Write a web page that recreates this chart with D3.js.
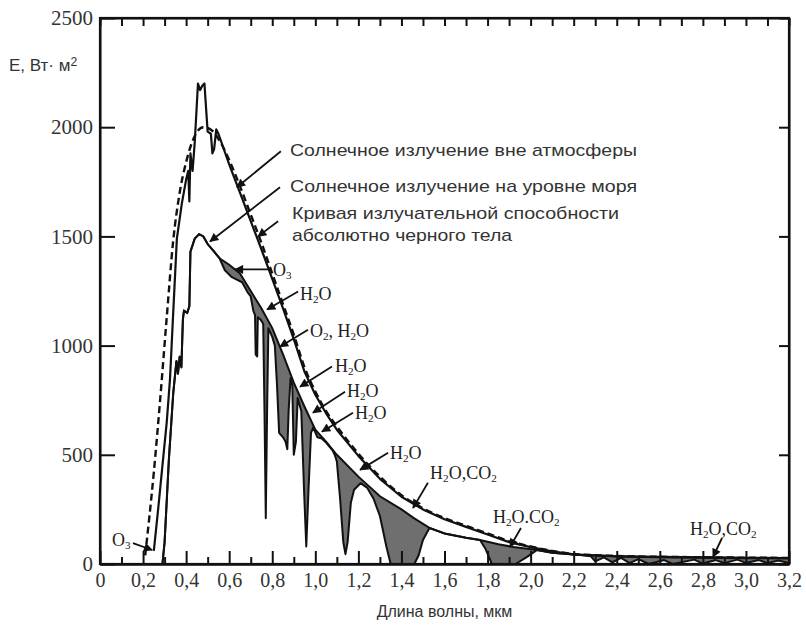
<!DOCTYPE html>
<html><head><meta charset="utf-8">
<script src="https://cdn.jsdelivr.net/npm/d3@7"></script>
<style>body{margin:0;background:#fff}svg{display:block}</style>
</head><body><svg id="c" width="806" height="628"></svg>
<script>
// ---- data: [wavelength µm, E W·m^-2·µm^-1] ----
const blackbody = [[0.21,40],[0.25,420],[0.28,760],[0.31,1130],[0.34,1480],[0.37,1700],[0.40,1840],[0.44,1960],[0.48,2000],[0.52,1985],[0.56,1930],[0.60,1850],[0.65,1730],[0.70,1600],[0.75,1470],[0.80,1330],[0.85,1190],[0.90,1050],[0.95,900],[1.00,790],[1.05,700],[1.10,630],[1.20,505],[1.30,400],[1.40,315],[1.50,255],[1.60,210],[1.70,175],[1.80,140],[1.90,105],[2.00,80],[2.10,60],[2.20,46],[2.40,37],[2.60,33],[2.80,31],[3.00,29],[3.20,28]];
const extraterrestrial = [[0.25,60],[0.27,250],[0.29,450],[0.31,650],[0.325,845],[0.34,1150],[0.357,1490],[0.38,1650],[0.40,1760],[0.41,1800],[0.415,1660],[0.42,1880],[0.43,1800],[0.44,1930],[0.455,2200],[0.465,2170],[0.475,2190],[0.485,2200],[0.50,1980],[0.515,1970],[0.522,1880],[0.53,1900],[0.54,1990],[0.55,1970],[0.60,1830],[0.65,1700],[0.70,1570],[0.75,1440],[0.80,1305],[0.85,1170],[0.90,1030],[0.95,880],[1.00,775],[1.05,690],[1.10,615],[1.20,495],[1.30,390],[1.40,308],[1.50,250],[1.60,205],[1.70,170],[1.80,135],[1.90,100],[2.00,77],[2.10,58],[2.20,44],[2.40,35],[2.60,31],[2.80,29],[3.00,27],[3.20,26]];
const seaLevelEnvelope = [[0.29,0],[0.30,100],[0.32,480],[0.34,780],[0.355,930],[0.362,870],[0.37,950],[0.378,900],[0.385,1120],[0.39,1160],[0.405,1150],[0.415,1180],[0.42,1430],[0.44,1490],[0.46,1510],[0.48,1500],[0.50,1465],[0.53,1430],[0.555,1400],[0.60,1370],[0.65,1330],[0.70,1250],[0.75,1170],[0.80,1080],[0.85,960],[0.90,830],[0.95,720],[1.00,615],[1.05,560],[1.10,500],[1.20,400],[1.30,310],[1.40,250],[1.456,211],[1.53,165],[1.60,140],[1.70,120],[1.765,110],[1.85,90],[1.92,78],[2.03,64],[2.10,52],[2.23,41],[2.40,36],[2.60,33],[2.80,31],[3.00,29],[3.20,28]];
const seaLevel = [[0.29,0],[0.30,100],[0.32,480],[0.34,780],[0.355,930],[0.362,870],[0.37,950],[0.378,900],[0.385,1120],[0.39,1160],[0.405,1150],[0.415,1180],[0.42,1430],[0.44,1490],[0.46,1510],[0.48,1500],[0.50,1465],[0.53,1430],[0.555,1400],[0.58,1345],[0.61,1315],[0.64,1300],[0.66,1290],[0.685,1245],[0.70,1225],[0.712,1160],[0.72,1140],[0.723,960],[0.73,950],[0.733,1130],[0.745,1120],[0.758,1100],[0.764,700],[0.77,210],[0.776,700],[0.782,1080],[0.80,1040],[0.812,1000],[0.822,820],[0.832,600],[0.85,580],[0.862,560],[0.87,525],[0.876,700],[0.885,850],[0.893,820],[0.90,500],[0.91,560],[0.918,760],[0.935,700],[0.948,330],[0.958,80],[0.968,330],[0.98,600],[0.99,625],[1.01,580],[1.03,575],[1.05,556],[1.08,520],[1.09,500],[1.10,470],[1.115,300],[1.13,100],[1.14,45],[1.15,100],[1.165,280],[1.18,340],[1.21,370],[1.24,350],[1.27,300],[1.30,220],[1.33,80],[1.35,0],[1.46,0],[1.48,40],[1.50,110],[1.53,165],[1.60,140],[1.70,120],[1.765,110],[1.79,70],[1.82,0],[1.93,0],[1.98,30],[2.03,64],[2.10,52],[2.23,41],[2.28,35],[2.30,12],[2.34,30],[2.38,8],[2.42,28],[2.46,4],[2.50,22],[2.55,0],[2.62,18],[2.66,0],[2.76,20],[2.80,2],[2.86,18],[2.90,4],[2.96,20],[3.00,5],[3.06,18],[3.10,4],[3.15,16],[3.20,5]];

const xTickValues = [0,0.2,0.4,0.6,0.8,1.0,1.2,1.4,1.6,1.8,2.0,2.2,2.4,2.6,2.8,3.0,3.2];
const xTickLabels = ["0","0,2","0,4","0,6","0,8","1,0","1,2","1,4","1,6","1,8","2,0","2,2","2,4","2,6","2,8","3,0","3,2"];
const xMinorTicks = [0.1,0.3,0.5,0.7,0.9,1.1,1.3,1.5,1.7,1.9,2.1,2.3,2.5,2.7,2.9,3.1];
const yTickValues = [0,500,1000,1500,2000,2500];
const yTickLabels = ["0","500","1000","1500","2000","2500"];

const legendLines = ["Солнечное излучение вне атмосферы","Солнечное излучение на уровне моря","Кривая излучательной способности","абсолютно черного тела"];
const bandLabels = ["O_3","H_2O","O_2, H_2O","H_2O","H_2O","H_2O","H_2O","H_2O,CO_2","H_2O.CO_2","H_2O,CO_2","O_3"];
const xTitle = "Длина волны, мкм";
const yTitle = "E, Вт· м^2";

// ---- layout ----
const svg = d3.select("#c");
const L=100, R=789, T=18, B=564;
const x = d3.scaleLinear().domain([0,3.2]).range([L,R]);
const y = d3.scaleLinear().domain([0,2500]).range([B,T]);
const ink = "#111";

function interp(arr){
  return v => {
    if (v<=arr[0][0]) return arr[0][1];
    for (let i=1;i<arr.length;i++){
      if (v<=arr[i][0]){const [x0,y0]=arr[i-1],[x1,y1]=arr[i];return y0+(y1-y0)*(v-x0)/(x1-x0);}
    }
    return arr[arr.length-1][1];
  };
}
const envF = interp(seaLevelEnvelope), seaF = interp(seaLevel);
const grid = Array.from(new Set(seaLevel.map(d=>d[0]).concat(seaLevelEnvelope.map(d=>d[0])))).sort((a,b)=>a-b);
const bandData = grid.map(l=>({l, top:envF(l), bot:Math.min(seaF(l),envF(l))}));

svg.append("path").datum(bandData)
  .attr("d", d3.area().x(d=>x(d.l)).y0(d=>y(d.bot)).y1(d=>y(d.top)))
  .attr("fill","#6f6f6f").attr("stroke","none");

const line = d3.line().x(d=>x(d[0])).y(d=>y(d[1]));
svg.append("path").datum(seaLevelEnvelope).attr("d",line).attr("fill","none").attr("stroke",ink).attr("stroke-width",2);
svg.append("path").datum(seaLevel).attr("d",line).attr("fill","none").attr("stroke",ink).attr("stroke-width",2).attr("stroke-linejoin","round");
svg.append("path").datum(extraterrestrial).attr("d",line).attr("fill","none").attr("stroke",ink).attr("stroke-width",2.2).attr("stroke-linejoin","round");
svg.append("path").datum(blackbody).attr("d",d3.line().curve(d3.curveMonotoneX).x(d=>x(d[0])).y(d=>y(d[1])))
  .attr("fill","none").attr("stroke",ink).attr("stroke-width",2.4).attr("stroke-dasharray","7,4");

// ---- axes (inward ticks) ----
const serif = "'Liberation Serif', 'DejaVu Serif', serif";
const sans = "'Liberation Sans', Arial, sans-serif";
function styleAxis(g){ g.selectAll("path,line").attr("stroke",ink).attr("stroke-width",2); g.selectAll("text").attr("fill","#333"); }
svg.append("g").attr("transform",`translate(0,${B})`)
  .call(d3.axisBottom(x).tickValues(xMinorTicks).tickSize(-7).tickSizeOuter(0).tickFormat(""))
  .call(styleAxis).call(g=>g.selectAll("text").remove());
svg.append("g").attr("transform",`translate(0,${B})`)
  .call(d3.axisBottom(x).tickValues(xTickValues).tickSize(-13).tickSizeOuter(0).tickPadding(9).tickFormat((d,i)=>xTickLabels[i]))
  .call(styleAxis).call(g=>g.selectAll("text").attr("font-family",serif).attr("font-size",20));
svg.append("g").attr("transform",`translate(${L},0)`)
  .call(d3.axisLeft(y).tickValues(yTickValues).tickSize(-15).tickSizeOuter(0).tickPadding(7).tickFormat((d,i)=>yTickLabels[i]))
  .call(styleAxis).call(g=>g.selectAll("text").attr("font-family",serif).attr("font-size",21));
svg.append("g").attr("transform",`translate(${R},0)`)
  .call(d3.axisRight(y).tickValues(yTickValues).tickSize(-10).tickSizeOuter(0).tickFormat(""))
  .call(styleAxis).call(g=>g.selectAll("text").remove());
svg.append("g").attr("transform",`translate(0,${T})`)
  .call(d3.axisTop(x).tickValues(xMinorTicks.concat(xTickValues)).tickSize(-8).tickSizeOuter(0).tickFormat(""))
  .call(styleAxis).call(g=>g.selectAll("text").remove());
svg.append("rect").attr("x",L).attr("y",T).attr("width",R-L).attr("height",B-T)
  .attr("fill","none").attr("stroke",ink).attr("stroke-width",2.2);

// ---- rich text (sub _x / sup ^x) ----
function rich(t, str, size){
  const parts = str.split(/([_^].)/).filter(s=>s.length);
  parts.forEach(p=>{
    if (p[0]==="_") t.append("tspan").attr("baseline-shift","-28%").attr("font-size",size*0.62).text(p[1]);
    else if (p[0]==="^") t.append("tspan").attr("baseline-shift","40%").attr("font-size",size*0.72).text(p[1]);
    else t.append("tspan").text(p);
  });
}

// titles
const yt = svg.append("text").attr("x",9).attr("y",71).attr("font-family",sans).attr("font-size",17).attr("fill","#333");
rich(yt, yTitle, 17);
svg.append("text").attr("x",x(1.6)).attr("y",617).attr("text-anchor","middle").attr("font-family",sans)
  .attr("font-size",16).attr("fill","#333").text(xTitle);

// ---- arrows ----
svg.append("defs").append("marker").attr("id","ah").attr("viewBox","0 0 10 10").attr("refX",9).attr("refY",5)
  .attr("markerWidth",10).attr("markerHeight",9).attr("markerUnits","userSpaceOnUse").attr("orient","auto")
  .append("path").attr("d","M0,0L10,5L0,10Z").attr("fill",ink);
function arrow(a,b){
  svg.append("line").attr("x1",x(a[0])).attr("y1",y(a[1])).attr("x2",x(b[0])).attr("y2",y(b[1]))
    .attr("stroke",ink).attr("stroke-width",1.8).attr("marker-end","url(#ah)");
}

// legend annotations (positions in data units)
const legendPos = [[0.8825,1867,347],[0.8825,1702,347],[0.892,1578,327],[0.892,1477,220]];
legendLines.forEach((s,i)=>{
  const [lx,ly,w]=legendPos[i];
  svg.append("text").attr("x",x(lx)).attr("y",y(ly)).attr("font-family",sans).attr("font-size",17)
    .attr("fill","#333").attr("textLength",w).attr("lengthAdjust","spacingAndGlyphs").text(s);
});
arrow([0.84,1890],[0.636,1725]);
arrow([0.836,1725],[0.511,1477]);
arrow([0.827,1569],[0.734,1500]);

// band labels
const bandPos = [
  {t:[0.8035,1317], a:[0.794,1349], b:[0.627,1349]},
  {t:[0.929,1211], a:[0.92,1248], b:[0.776,1165]},
  {t:[0.975,1041], a:[0.966,1073], b:[0.836,995]},
  {t:[1.0915,881], a:[1.0775,904], b:[0.929,812]},
  {t:[1.147,766], a:[1.138,789], b:[0.989,693]},
  {t:[1.184,665], a:[1.175,693], b:[1.031,606]},
  {t:[1.347,482], a:[1.338,509], b:[1.208,431]},
  {t:[1.533,390], a:[1.523,372], b:[1.454,257]},
  {t:[1.825,188], a:[1.955,165], b:[1.904,78]},
  {t:[2.74,133], a:[2.889,119], b:[2.847,32]},
  {t:[0.056,83], a:[0.153,96], b:[0.242,64]}
];
bandLabels.forEach((s,i)=>{
  const p = bandPos[i];
  const t = svg.append("text").attr("x",x(p.t[0])).attr("y",y(p.t[1])).attr("font-family",serif)
    .attr("font-size",18).attr("fill","#222");
  rich(t, s, 18);
  arrow(p.a, p.b);
});
</script></body></html>
